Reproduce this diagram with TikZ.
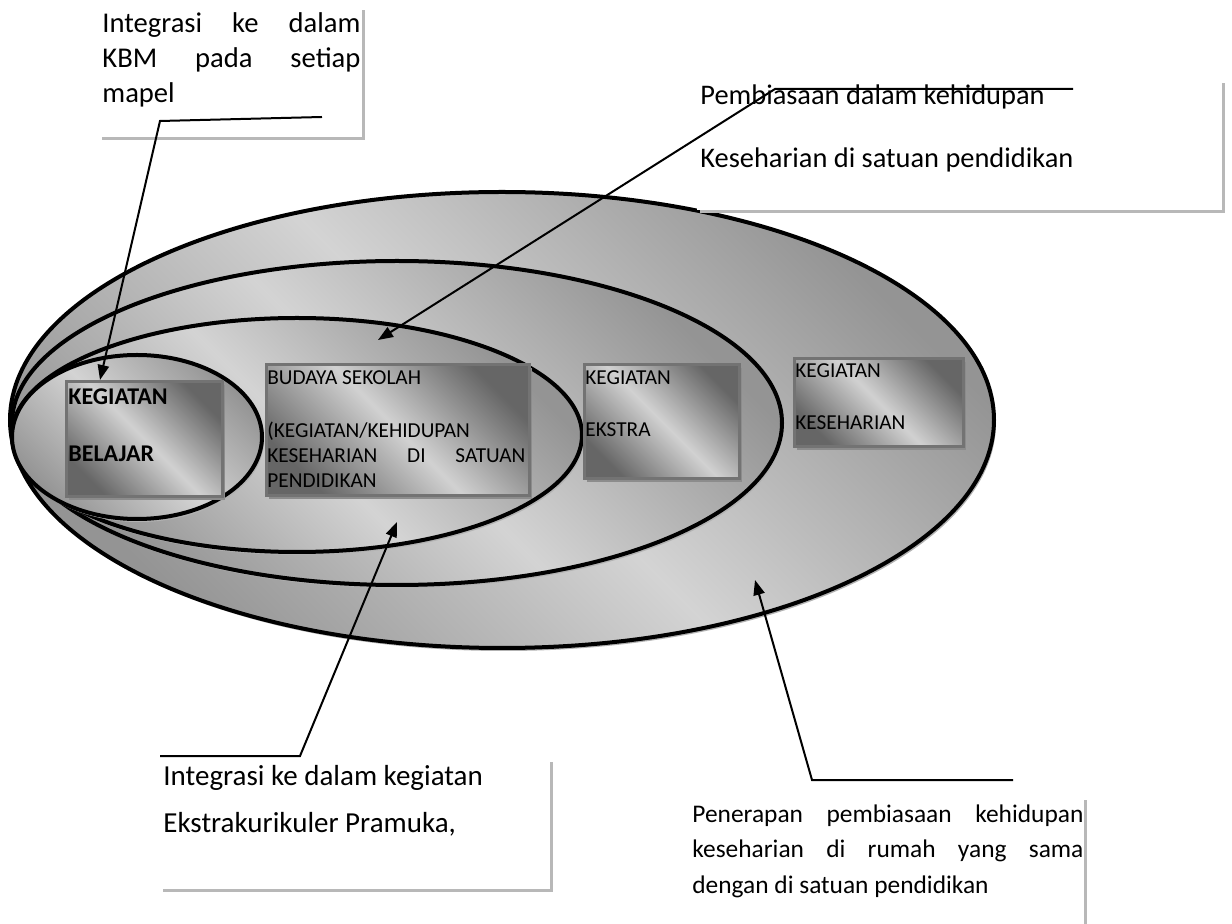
\documentclass[tikz,border=0pt]{standalone}
\usepackage{fontspec}
\setmainfont{Carlito}
\usetikzlibrary{arrows.meta,positioning,shadows}

\tikzset{
  lingkar/.style={draw=black, line width=2pt,
    top color=black!42, bottom color=black!42, middle color=black!17,
    shading angle=-45,
    drop shadow={shadow xshift=1pt, shadow yshift=-1.5pt, fill=black!30, opacity=1}},
  kotak/.style={draw=black!55, line width=1.3pt, anchor=north west, inner sep=0pt,
    top color=black!60, bottom color=black!60, middle color=black!18,
    shading angle=-45,
    drop shadow={shadow xshift=1.5pt, shadow yshift=-2pt, fill=black!45, opacity=1}},
  keterangan/.style={fill=white, anchor=north west, inner sep=0pt,
    drop shadow={shadow xshift=1.5pt, shadow yshift=-1.5pt, fill=black!28, opacity=1}},
  isi/.style={anchor=base west, inner sep=0pt, align=justify},
  garis/.style={line width=1pt, -{Stealth[scale=1.0, inset=0pt]}}
}

\begin{document}
\begin{tikzpicture}[x=0.5pt, y=-0.5pt]
\useasboundingbox (0,0) rectangle (1232,924);

%% lingkaran
\path[lingkar] (502,420) ellipse [x radius=492, y radius=228];
\path[lingkar] (397,423) ellipse [x radius=385, y radius=162];
\path[lingkar] (297,435) ellipse [x radius=285, y radius=117];
\path[lingkar] (137,437) ellipse [x radius=125, y radius=82];

%% kotak kegiatan
\node[kotak, minimum width=78pt, minimum height=57.5pt] (belajar) at (65,380) {};
\node[kotak, minimum width=131.5pt, minimum height=65.5pt] (budaya) at (265,363) {};
\node[kotak, minimum width=77.5pt, minimum height=57pt] (ekstra) at (583,363) {};
\node[kotak, minimum width=84.5pt, minimum height=44pt] (harian) at (793,357) {};

\node[isi, text width=74pt, font=\bfseries\fontsize{12}{14}\selectfont] (belajarTeks) at (68,405) {KEGIATAN\\[14.5pt]BELAJAR};
\node[isi, text width=129pt, font=\fontsize{10.65}{12.5}\selectfont] (budayaTeks) at (267,385)
  {BUDAYA SEKOLAH\\[14pt](KEGIATAN/KEHIDUPAN\\KESEHARIAN DI SATUAN\linebreak PENDIDIKAN};
\node[isi, text width=74pt, font=\fontsize{10.65}{13}\selectfont] (ekstraTeks) at (585,385) {KEGIATAN\\[13pt]EKSTRA};
\node[isi, text width=82pt, font=\fontsize{10.65}{13}\selectfont] (harianTeks) at (795,378) {KEGIATAN\\[13pt]KESEHARIAN};

%% keterangan
\node[keterangan, minimum width=131.5pt, minimum height=65pt] (kbm) at (99,7) {};
\node[keterangan, minimum width=262.5pt, minimum height=65pt] (pembiasaan) at (697,80) {};
\node[keterangan, minimum width=195pt, minimum height=65pt] (pramuka) at (160,759) {};
\node[keterangan, minimum width=198pt, minimum height=75pt] (penerapan) at (688,797) {};

\node[isi, text width=129pt, font=\fontsize{14.3}{17.5}\selectfont] (kbmTeks) at (102,33)
  {Integrasi ke dalam\linebreak KBM pada setiap\linebreak mapel};
\node[isi, text width=260pt, font=\fontsize{14.2}{17.5}\selectfont] (pembiasaanTeks) at (700,105)
  {Pembiasaan dalam kehidupan\\[14pt]Keseharian di satuan pendidikan};
\node[isi, text width=190pt, font=\fontsize{14.5}{17.5}\selectfont] (pramukaTeks) at (163,785)
  {Integrasi ke dalam kegiatan\\[6pt]Ekstrakurikuler Pramuka,};
\node[isi, text width=195.5pt, font=\fontsize{12.7}{17.75}\selectfont] (penerapanTeks) at (692,822)
  {Penerapan pembiasaan kehidupan\linebreak keseharian di rumah yang sama\linebreak dengan di satuan pendidikan};

%% garis penunjuk
\coordinate (kbm-a) at (322,117);
\coordinate (kbm-b) at (160,121);
\coordinate (kbm-ujung) at (100,380);
\coordinate (pembiasaan-a) at (1073,89);
\coordinate (pembiasaan-b) at (775,89);
\coordinate (pembiasaan-ujung) at (378,340);
\coordinate (pramuka-a) at (160,756);
\coordinate (pramuka-b) at (300,756);
\coordinate (pramuka-ujung) at (397,522);
\coordinate (penerapan-a) at (1013,780);
\coordinate (penerapan-b) at (812,780);
\coordinate (penerapan-ujung) at (755,580);

\draw[garis] (kbm-a) -- (kbm-b) -- (kbm-ujung);
\draw[garis] (pembiasaan-a) -- (pembiasaan-b) -- (pembiasaan-ujung);
\draw[garis] (pramuka-a) -- (pramuka-b) -- (pramuka-ujung);
\draw[garis] (penerapan-a) -- (penerapan-b) -- (penerapan-ujung);

\end{tikzpicture}
\end{document}
